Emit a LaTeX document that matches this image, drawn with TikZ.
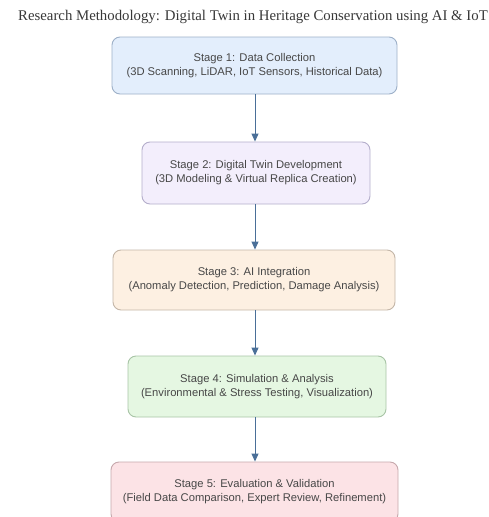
\documentclass[tikz,border=0pt]{standalone}
\usepackage{fontspec}
\setmainfont{Liberation Serif}
\setsansfont{Liberation Sans}
\usetikzlibrary{arrows.meta}
\definecolor{fA}{HTML}{E3EEFC}\definecolor{dA}{HTML}{9DB0C8}
\definecolor{fB}{HTML}{F3EEFC}\definecolor{dB}{HTML}{B4AECB}
\definecolor{fC}{HTML}{FDF0E2}\definecolor{dC}{HTML}{C4B6A8}
\definecolor{fD}{HTML}{E5F7E2}\definecolor{dD}{HTML}{A8C4A6}
\definecolor{fE}{HTML}{FCE3E6}\definecolor{dE}{HTML}{C6A8AC}
\definecolor{arr}{HTML}{4A6F98}
\tikzset{
  stagebox/.style={draw, line width=0.9pt, rounded corners=8pt, align=center,
    font=\sffamily\fontsize{11.2}{14}\selectfont, text=black!72, inner sep=0pt},
  flow/.style={draw=arr, line width=1pt, -{Triangle[width=7pt,length=8pt]}}
}
\begin{document}
\begin{tikzpicture}[x=1pt,y=-1pt]
\useasboundingbox (0,0) rectangle (488,517);
\clip (0,0) rectangle (488,517);
\node[anchor=west, font=\fontsize{14.8}{16}\selectfont, text=black!78, inner sep=0pt] (title) at (18,17)
  {Research Methodology: Digital Twin in Heritage Conservation using AI \& IoT};
\node[stagebox, fill=fA, draw=dA, minimum width=285pt, minimum height=57pt] (s1) at (254.5,65.5)
  {Stage 1: Data Collection\\(3D Scanning, LiDAR, IoT Sensors, Historical Data)};
\node[stagebox, fill=fB, draw=dB, minimum width=228pt, minimum height=62pt] (s2) at (256,173)
  {Stage 2: Digital Twin Development\\(3D Modeling \& Virtual Replica Creation)};
\node[stagebox, fill=fC, draw=dC, minimum width=282pt, minimum height=60pt] (s3) at (254,280)
  {Stage 3: AI Integration\\(Anomaly Detection, Prediction, Damage Analysis)};
\node[stagebox, fill=fD, draw=dD, minimum width=258pt, minimum height=61pt] (s4) at (257,386.5)
  {Stage 4: Simulation \& Analysis\\(Environmental \& Stress Testing, Visualization)};
\node[stagebox, fill=fE, draw=dE, minimum width=287pt, minimum height=60pt] (s5) at (254.5,492)
  {Stage 5: Evaluation \& Validation\\(Field Data Comparison, Expert Review, Refinement)};
\draw[flow] (s1.south -| 255,0) -- (s2.north -| 255,0);
\draw[flow] (s2.south -| 255,0) -- (s3.north -| 255,0);
\draw[flow] (s3.south -| 255,0) -- (s4.north -| 255,0);
\draw[flow] (s4.south -| 255,0) -- (s5.north -| 255,0);
\end{tikzpicture}
\end{document}
